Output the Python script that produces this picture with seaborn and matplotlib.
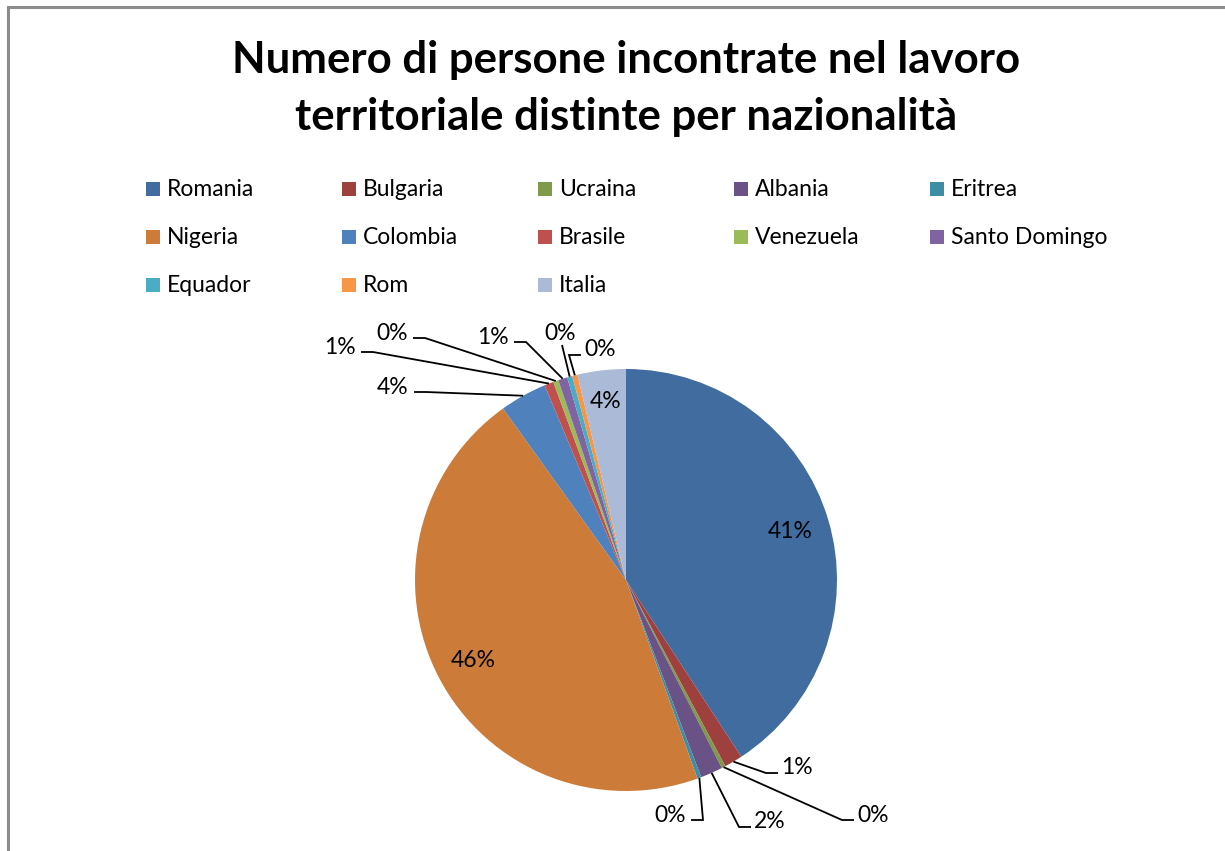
import matplotlib
matplotlib.use("Agg")
import matplotlib.pyplot as plt
from matplotlib.patches import Rectangle
import numpy as np
import seaborn as sns

# ---- data -------------------------------------------------------------
countries = ["Romania", "Bulgaria", "Ucraina", "Albania", "Eritrea",
             "Nigeria", "Colombia", "Brasile", "Venezuela", "Santo Domingo",
             "Equador", "Rom", "Italia"]
shares = [40.8, 1.4, 0.3, 1.7, 0.3, 45.6, 3.6, 0.7, 0.4, 0.7, 0.4, 0.4, 3.7]
colors = ["#416C9F", "#9E413E", "#7F9A48", "#6A5286", "#3D8EA4",
          "#CD7B38", "#4F81BD", "#C0504D", "#9BBB59", "#8064A2",
          "#4BACC6", "#F79646", "#AABAD7"]
title_lines = ["Numero di persone incontrate nel lavoro",
               "territoriale distinte per nazionalità"]

# ---- layout (pixel units, y measured from the top) -----------------
W, H = 1225, 851
CX, CY, R = 626, 580, 211
# label placement: ("in", radius fraction) or (text x, text y, leader side)
label_pos = {
    "Romania": ("in", 0.81),
    "Bulgaria": (797, 768, "left"),
    "Ucraina": (873, 815, "left"),
    "Albania": (770, 822, "left"),
    "Eritrea": (670, 815, "right"),
    "Nigeria": ("in", 0.82),
    "Colombia": (393, 387, "right"),
    "Brasile": (340, 347, "right"),
    "Venezuela": (392, 333, "right"),
    "Santo Domingo": (493, 337, "right"),
    "Equador": (560, 333, "bottom"),
    "Rom": (600, 350, "left"),
    "Italia": ("in", 0.85),
}

sns.set_theme(style="white")
plt.rcParams["font.family"] = ["Lato", "DejaVu Sans"]

fig = plt.figure(figsize=(W / 100, H / 100), dpi=100)
fig.patch.set_facecolor("white")
ax = fig.add_axes([0, 0, 1, 1])


def fy(y):
    return H - y


ax.pie(shares, colors=colors, startangle=90, counterclock=False,
       center=(CX, fy(CY)), radius=R,
       wedgeprops=dict(linewidth=0, antialiased=True))
ax.set_xlim(0, W)
ax.set_ylim(0, H)
ax.set_aspect("auto")
ax.axis("off")

# ---- percentage labels with leader lines ------------------------------
total = sum(shares)
cum = np.cumsum(shares)
for name, val, c in zip(countries, shares, cum):
    theta = np.deg2rad(360.0 * (c - val / 2) / total)
    sx, sy = np.sin(theta), np.cos(theta)
    txt = f"{round(100 * val / total):d}%"
    pos = label_pos[name]
    if pos[0] == "in":
        rr = pos[1] * R
        ax.text(CX + rr * sx, fy(CY) + rr * sy, txt, fontsize=16.5,
                ha="center", va="center", color="black")
        continue
    tx, ty, side = pos
    ax.text(tx, fy(ty), txt, fontsize=16.5, ha="center", va="center",
            color="black")
    rim = (CX + R * sx, fy(CY) + R * sy)
    ly = fy(ty + 5)
    if side == "left":
        pts = [(tx - 19, ly), (tx - 31, ly), rim]
    elif side == "right":
        pts = [(tx + 21, ly), (tx + 33, ly), rim]
    else:
        pts = [(tx + 2, fy(ty + 12)), rim]
    xs, ys = zip(*pts)
    ax.plot(xs, ys, color="black", lw=1.3, solid_capstyle="butt",
            solid_joinstyle="miter")

# ---- title -----------------------------------------------------------
ax.text(626, fy(73), title_lines[0], fontsize=31.5, fontweight="bold",
        ha="center", va="baseline", color="black")
ax.text(626, fy(130), title_lines[1], fontsize=31.5, fontweight="bold",
        ha="center", va="baseline", color="black")

# ---- legend (row-wise grid) -------------------------------------------
row_y = [189, 237, 285]
col_x = [146 + 196 * i for i in range(5)]
for i, (name, col) in enumerate(zip(countries, colors)):
    r, k = divmod(i, 5)
    x0, y0 = col_x[k], row_y[r]
    ax.add_patch(Rectangle((x0, fy(y0) - 7), 14, 14, facecolor=col,
                           edgecolor="none"))
    ax.text(x0 + 21, fy(y0), name, fontsize=16.5, ha="left", va="center",
            color="black")

# ---- chart frame (left and top edges) -----------------------------------
ax.plot([8, 8, W], [0, fy(7), fy(7)], color="#8C8C8C", lw=2.2,
        solid_joinstyle="miter")

fig.savefig("out.png", dpi=100, facecolor="white")
